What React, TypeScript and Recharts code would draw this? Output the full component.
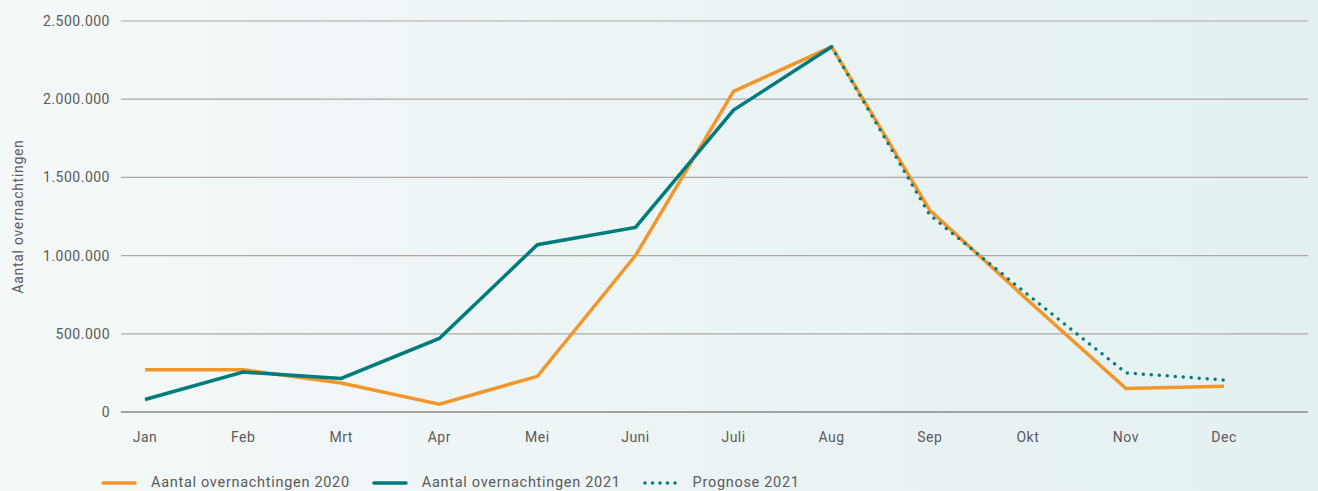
import { LineChart, Line, XAxis, YAxis, CartesianGrid, Legend } from 'recharts';

document.body.style.margin = '0';

const months = ['Jan', 'Feb', 'Mrt', 'Apr', 'Mei', 'Juni', 'Juli', 'Aug', 'Sep', 'Okt', 'Nov', 'Dec'];
const stays2020 = [270000, 270000, 185000, 50000, 228000, 1000000, 2050000, 2335000, 1290000, 715000, 150000, 165000];
const stays2021 = [80000, 255000, 215000, 470000, 1070000, 1180000, 1930000, 2335000, null, null, null, null];
const forecast2021 = [null, null, null, null, null, null, null, 2335000, 1260000, 750000, 250000, 205000];
const yTicks = [0, 500000, 1000000, 1500000, 2000000, 2500000];

const ORANGE = '#f3962a';
const TEAL = '#007b7c';
const TEXT = '#5a5a5a';

const data = months.map((m, i) => ({
    month: m,
    y2020: stays2020[i],
    y2021: stays2021[i],
    prognose: forecast2021[i]
}));

const fmt = (v: number) => String(v).replace(/\B(?=(\d{3})+(?!\d))/g, '.');

function LegendContent() {
    const items = [
        { label: 'Aantal overnachtingen 2020', color: ORANGE, dotted: false },
        { label: 'Aantal overnachtingen 2021', color: TEAL, dotted: false },
        { label: 'Prognose 2021', color: TEAL, dotted: true }
    ];
    return (
        <div style={{ display: 'flex', alignItems: 'center', height: 39, paddingTop: 22, boxSizing: 'border-box' }}>
            {items.map((it) => (
                <div key={it.label} style={{ display: 'flex', alignItems: 'center', marginRight: 22 }}>
                    <svg width={36} height={8} style={{ marginRight: 14 }}>
                        <line
                            x1={2} y1={4} x2={34} y2={4}
                            stroke={it.color}
                            strokeWidth={3.5}
                            strokeLinecap="round"
                            strokeDasharray={it.dotted ? '0 7.5' : undefined}
                        />
                    </svg>
                    <span style={{ color: TEXT, fontSize: 14.5, letterSpacing: 0.7 }}>{it.label}</span>
                </div>
            ))}
        </div>
    );
}

export default function App() {
    return (
        <div style={{
            width: 1318,
            height: 491,
            background: 'linear-gradient(90deg, #f4f8f9 0%, #e4f0f0 100%)',
            fontFamily: 'Roboto, sans-serif'
        }}>
            <LineChart width={1318} height={491} data={data} margin={{ top: 21, right: 10, left: 0, bottom: 0 }}>
                <CartesianGrid vertical={false} stroke="#a9a9a9" strokeWidth={1.2} />
                <XAxis
                    dataKey="month"
                    padding={{ left: 24, right: 84 }}
                    tickLine={false}
                    axisLine={{ stroke: '#7a7a7a', strokeWidth: 1.2 }}
                    tick={{ fill: TEXT, fontSize: 14, letterSpacing: 0.5 }}
                    tickMargin={14}
                    height={40}
                />
                <YAxis
                    width={121}
                    domain={[0, 2500000]}
                    ticks={yTicks}
                    tickFormatter={fmt}
                    tickLine={false}
                    axisLine={false}
                    tick={{ fill: TEXT, fontSize: 14, letterSpacing: 0.5 }}
                    tickMargin={5}
                    label={{ value: 'Aantal overnachtingen', angle: -90, position: 'insideLeft', offset: 18, style: { fill: TEXT, fontSize: 14, letterSpacing: 0.7, textAnchor: 'middle' } }}
                />
                <Legend
                    verticalAlign="bottom"
                    align="left"
                    content={() => <LegendContent />}
                    wrapperStyle={{ left: 101, height: 39 }}
                />
                <Line type="linear" dataKey="y2020" stroke={ORANGE} strokeWidth={3.5} dot={false} isAnimationActive={false} />
                <Line type="linear" dataKey="y2021" stroke={TEAL} strokeWidth={3.5} dot={false} isAnimationActive={false} />
                <Line type="linear" dataKey="prognose" stroke={TEAL} strokeWidth={3.5} strokeDasharray="0 8" strokeLinecap="round" dot={false} isAnimationActive={false} />
            </LineChart>
        </div>
    );
}
